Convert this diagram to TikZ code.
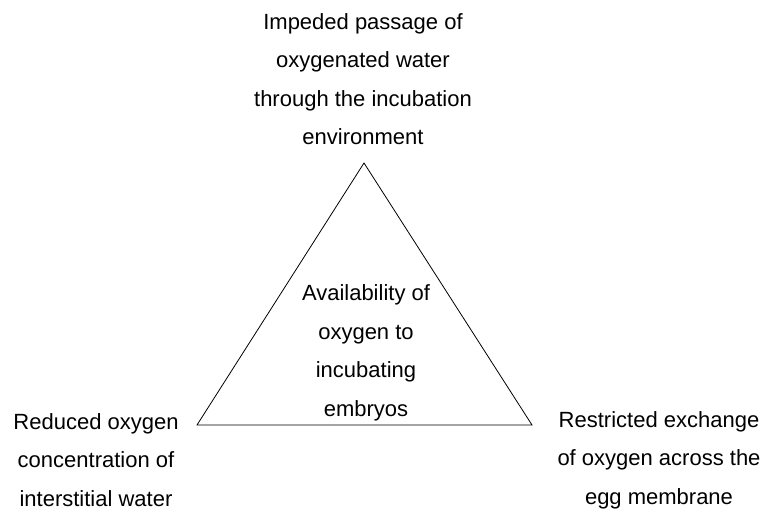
\documentclass[tikz,border=0pt]{standalone}
\usepackage{fontspec}
\setmainfont{Liberation Sans}
\usepackage{tikz}
\usetikzlibrary{positioning}

\begin{document}
\begin{tikzpicture}[
    x=1pt, y=-1pt,
    note/.style={align=center, inner sep=0pt, font=\fontsize{22}{38.5}\selectfont},
    edge/.style={draw, line width=0.8pt, line join=miter}
]
\useasboundingbox (0,0) rectangle (763,510);
\coordinate (apex) at (364,163);
\coordinate (bl) at (197,425);
\coordinate (br) at (532,425);
\draw[edge] (apex) -- (bl) -- (br) -- cycle;
\node[note] (passage) at (363,79) {Impeded passage of\\oxygenated water\\through the incubation\\environment};
\node[note] (avail) at (366,353) {Availability of\\oxygen to\\incubating\\embryos};
\node[note] (reduced) at (96,460) {Reduced oxygen\\concentration of\\interstitial water};
\node[note] (exchange) at (659,460) {Restricted exchange\\of oxygen across the\\egg membrane};
\end{tikzpicture}
\end{document}
